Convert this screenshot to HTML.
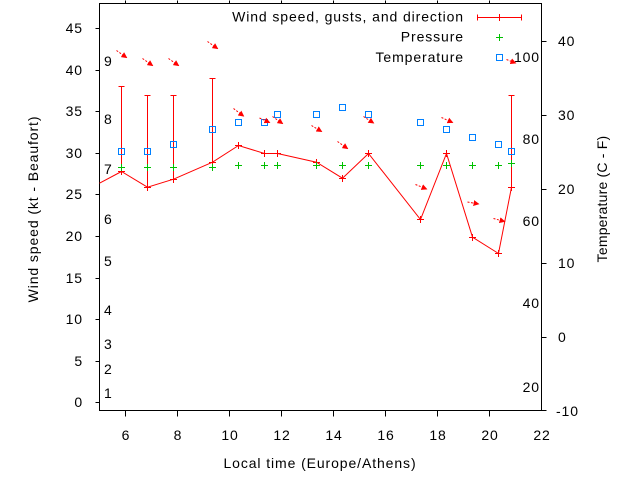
<!DOCTYPE html>
<html>
<head>
<meta charset="utf-8">
<style>
  html,body{margin:0;padding:0;background:#fff;}
  svg{display:block;}
  text{font-family:"Liberation Sans",Arial,sans-serif;font-size:14px;fill:#000;}
  .ls{letter-spacing:0.9px;}
</style>
</head>
<body>
<svg width="640" height="480" viewBox="0 0 640 480" xmlns="http://www.w3.org/2000/svg">
<defs>
  <marker id="ah" markerWidth="6" markerHeight="6" refX="5" refY="3" orient="auto" markerUnits="userSpaceOnUse">
    <path d="M0,0 L6,3 L0,6 z" fill="#ff0000"/>
  </marker>
</defs>
<rect x="0" y="0" width="640" height="480" fill="#fff"/>
<g transform="translate(0.5,0.5)" shape-rendering="crispEdges">
  <!-- frame -->
  <rect x="99" y="3" width="442" height="407" fill="none" stroke="#000" stroke-width="1"/>
  <!-- left ticks -->
  <g stroke="#000">
    <line x1="95" y1="402" x2="99" y2="402"/>
    <line x1="95" y1="361" x2="99" y2="361"/>
    <line x1="95" y1="319" x2="99" y2="319"/>
    <line x1="95" y1="278" x2="99" y2="278"/>
    <line x1="95" y1="236" x2="99" y2="236"/>
    <line x1="95" y1="194" x2="99" y2="194"/>
    <line x1="95" y1="153" x2="99" y2="153"/>
    <line x1="95" y1="111" x2="99" y2="111"/>
    <line x1="95" y1="70" x2="99" y2="70"/>
    <line x1="95" y1="28" x2="99" y2="28"/>
    <!-- right ticks -->
    <line x1="541" y1="41" x2="546" y2="41"/>
    <line x1="541" y1="115" x2="546" y2="115"/>
    <line x1="541" y1="189" x2="546" y2="189"/>
    <line x1="541" y1="263" x2="546" y2="263"/>
    <line x1="541" y1="337" x2="546" y2="337"/>
    <line x1="541" y1="410" x2="546" y2="410"/>
    <!-- bottom ticks -->
    <line x1="125" y1="410" x2="125" y2="416"/>
    <line x1="177" y1="410" x2="177" y2="416"/>
    <line x1="229" y1="410" x2="229" y2="416"/>
    <line x1="281" y1="410" x2="281" y2="416"/>
    <line x1="333" y1="410" x2="333" y2="416"/>
    <line x1="385" y1="410" x2="385" y2="416"/>
    <line x1="437" y1="410" x2="437" y2="416"/>
    <line x1="489" y1="410" x2="489" y2="416"/>
    <!-- top ticks -->
    <line x1="125" y1="0" x2="125" y2="3"/>
    <line x1="177" y1="0" x2="177" y2="3"/>
    <line x1="229" y1="0" x2="229" y2="3"/>
    <line x1="281" y1="0" x2="281" y2="3"/>
    <line x1="333" y1="0" x2="333" y2="3"/>
    <line x1="385" y1="0" x2="385" y2="3"/>
    <line x1="437" y1="0" x2="437" y2="3"/>
    <line x1="489" y1="0" x2="489" y2="3"/>
  </g>
</g>

<!-- left tick labels -->
<g class="ls" text-anchor="end">
  <text x="83" y="407">0</text>
  <text x="83" y="366">5</text>
  <text x="83" y="324">10</text>
  <text x="83" y="283">15</text>
  <text x="83" y="241">20</text>
  <text x="83" y="199">25</text>
  <text x="83" y="158">30</text>
  <text x="83" y="116">35</text>
  <text x="83" y="75">40</text>
  <text x="83" y="33">45</text>
</g>
<!-- right tick labels -->
<g class="ls">
  <text x="558" y="46">40</text>
  <text x="558" y="120">30</text>
  <text x="558" y="194">20</text>
  <text x="558" y="268">10</text>
  <text x="558" y="342">0</text>
  <text x="556" y="416">-10</text>
</g>
<!-- bottom tick labels -->
<g class="ls" text-anchor="middle">
  <text x="126" y="440">6</text>
  <text x="178" y="440">8</text>
  <text x="230" y="440">10</text>
  <text x="282" y="440">12</text>
  <text x="334" y="440">14</text>
  <text x="386" y="440">16</text>
  <text x="438" y="440">18</text>
  <text x="490" y="440">20</text>
  <text x="542" y="440">22</text>
</g>
<!-- Beaufort labels -->
<g class="ls">
  <text x="104" y="398">1</text>
  <text x="104" y="374">2</text>
  <text x="104" y="349">3</text>
  <text x="104" y="315">4</text>
  <text x="104" y="266">5</text>
  <text x="104" y="224">6</text>
  <text x="104" y="174">7</text>
  <text x="104" y="124">8</text>
  <text x="104" y="66">9</text>
</g>
<!-- Fahrenheit labels -->
<g class="ls" text-anchor="end">
  <text x="540" y="62">100</text>
  <text x="540" y="144">80</text>
  <text x="540" y="226">60</text>
  <text x="540" y="308">40</text>
  <text x="540" y="392">20</text>
</g>

<!-- axis titles -->
<text class="ls" x="320" y="468" text-anchor="middle">Local time (Europe/Athens)</text>
<text class="ls" transform="translate(38,209) rotate(-90)" text-anchor="middle">Wind speed (kt - Beaufort)</text>
<text transform="translate(607,199) rotate(-90)" text-anchor="middle" style="letter-spacing:0.2px">Temperature (C - F)</text>

<!-- legend -->
<g class="ls" text-anchor="end">
  <text x="464" y="21.5">Wind speed, gusts, and direction</text>
  <text x="464" y="41.5">Pressure</text>
  <text x="464" y="62">Temperature</text>
</g>
<g transform="translate(0.5,0.5)" fill="none" stroke-width="1">
  <g stroke="#ff0000" shape-rendering="crispEdges">
    <line x1="477" y1="17" x2="521" y2="17"/>
    <line x1="477" y1="14" x2="477" y2="20"/>
    <line x1="521" y1="14" x2="521" y2="20"/>
    <line x1="495.5" y1="17" x2="502.5" y2="17"/>
    <line x1="499" y1="13.5" x2="499" y2="20.5"/>
  </g>
  <g stroke="#00c000" shape-rendering="crispEdges">
    <line x1="495.5" y1="37" x2="502.5" y2="37"/>
    <line x1="499" y1="33.5" x2="499" y2="40.5"/>
  </g>
  <rect x="496" y="54" width="6" height="6" stroke="#0080ff" shape-rendering="crispEdges"/>
</g>

<g transform="translate(0.5,0.5)" fill="none" stroke-width="1">
  <!-- wind speed line -->
  <polyline stroke="#ff0000" points="99,182.7 121,171 147,186.7 173,178.7 212,161.7 238,145 264,153 277,153 316,161.7 342,177.7 368,153 420,219 446,153 472,236.7 498,253 511,186.7"/>
  <!-- gust error bars -->
  <g stroke="#ff0000" shape-rendering="crispEdges">
    <line x1="121" y1="86" x2="121" y2="171"/><line x1="118" y1="86" x2="124" y2="86"/>
    <line x1="147" y1="95" x2="147" y2="186.7"/><line x1="144" y1="95" x2="150" y2="95"/>
    <line x1="173" y1="95" x2="173" y2="178.7"/><line x1="170" y1="95" x2="176" y2="95"/>
    <line x1="212" y1="78" x2="212" y2="161.7"/><line x1="209" y1="78" x2="215" y2="78"/>
    <line x1="511" y1="95" x2="511" y2="186.7"/><line x1="508" y1="95" x2="514" y2="95"/>
  </g>
  <!-- wind + markers -->
  <g stroke="#ff0000" shape-rendering="crispEdges">
    <path d="M117.5,171h7M121,167.5v7"/>
    <path d="M143.5,187h7M147,183.5v7"/>
    <path d="M169.5,179h7M173,175.5v7"/>
    <path d="M208.5,162h7M212,158.5v7"/>
    <path d="M234.5,145h7M238,141.5v7"/>
    <path d="M260.5,153h7M264,149.5v7"/>
    <path d="M273.5,153h7M277,149.5v7"/>
    <path d="M312.5,162h7M316,158.5v7"/>
    <path d="M338.5,178h7M342,174.5v7"/>
    <path d="M364.5,153h7M368,149.5v7"/>
    <path d="M416.5,219h7M420,215.5v7"/>
    <path d="M442.5,153h7M446,149.5v7"/>
    <path d="M468.5,237h7M472,233.5v7"/>
    <path d="M494.5,253h7M498,249.5v7"/>
    <path d="M507.5,187h7M511,183.5v7"/>
  </g>
  <!-- pressure + markers -->
  <g stroke="#00c000" shape-rendering="crispEdges">
    <path d="M117.5,167h7M121,163.5v7"/>
    <path d="M143.5,167h7M147,163.5v7"/>
    <path d="M169.5,167h7M173,163.5v7"/>
    <path d="M208.5,167h7M212,163.5v7"/>
    <path d="M234.5,165h7M238,161.5v7"/>
    <path d="M260.5,165h7M264,161.5v7"/>
    <path d="M273.5,165h7M277,161.5v7"/>
    <path d="M312.5,165h7M316,161.5v7"/>
    <path d="M338.5,165h7M342,161.5v7"/>
    <path d="M364.5,165h7M368,161.5v7"/>
    <path d="M416.5,165h7M420,161.5v7"/>
    <path d="M442.5,165h7M446,161.5v7"/>
    <path d="M468.5,165h7M472,161.5v7"/>
    <path d="M494.5,165h7M498,161.5v7"/>
    <path d="M507.5,163h7M511,159.5v7"/>
  </g>
  <!-- temperature squares -->
  <g stroke="#0080ff" shape-rendering="crispEdges">
    <rect x="118" y="148" width="6" height="6"/>
    <rect x="144" y="148" width="6" height="6"/>
    <rect x="170" y="141" width="6" height="6"/>
    <rect x="209" y="126" width="6" height="6"/>
    <rect x="235" y="119" width="6" height="6"/>
    <rect x="261" y="119" width="6" height="6"/>
    <rect x="274" y="111" width="6" height="6"/>
    <rect x="313" y="111" width="6" height="6"/>
    <rect x="339" y="104" width="6" height="6"/>
    <rect x="365" y="111" width="6" height="6"/>
    <rect x="417" y="119" width="6" height="6"/>
    <rect x="443" y="126" width="6" height="6"/>
    <rect x="469" y="134" width="6" height="6"/>
    <rect x="495" y="141" width="6" height="6"/>
    <rect x="508" y="148" width="6" height="6"/>
  </g>
  <!-- wind direction arrows -->
  <g stroke="#ff0000" stroke-dasharray="2,1.5" marker-end="url(#ah)">
    <line x1="116" y1="50" x2="126" y2="57"/>
    <line x1="142" y1="58" x2="152" y2="65"/>
    <line x1="168" y1="58" x2="178" y2="65"/>
    <line x1="207" y1="41" x2="217" y2="48"/>
    <line x1="233" y1="108" x2="243" y2="115.5"/>
    <line x1="259" y1="117.5" x2="269" y2="122"/>
    <line x1="272" y1="116" x2="282" y2="123"/>
    <line x1="311" y1="125" x2="321" y2="131"/>
    <line x1="337" y1="141" x2="347" y2="148"/>
    <line x1="363" y1="116" x2="373" y2="122.5"/>
    <line x1="415" y1="184" x2="426" y2="188.5"/>
    <line x1="441" y1="117" x2="452" y2="122"/>
    <line x1="467" y1="201.5" x2="478" y2="203.5"/>
    <line x1="493" y1="218" x2="504" y2="221"/>
    <line x1="506" y1="59" x2="515" y2="62.5"/>
  </g>
</g>
</svg>
</body>
</html>
